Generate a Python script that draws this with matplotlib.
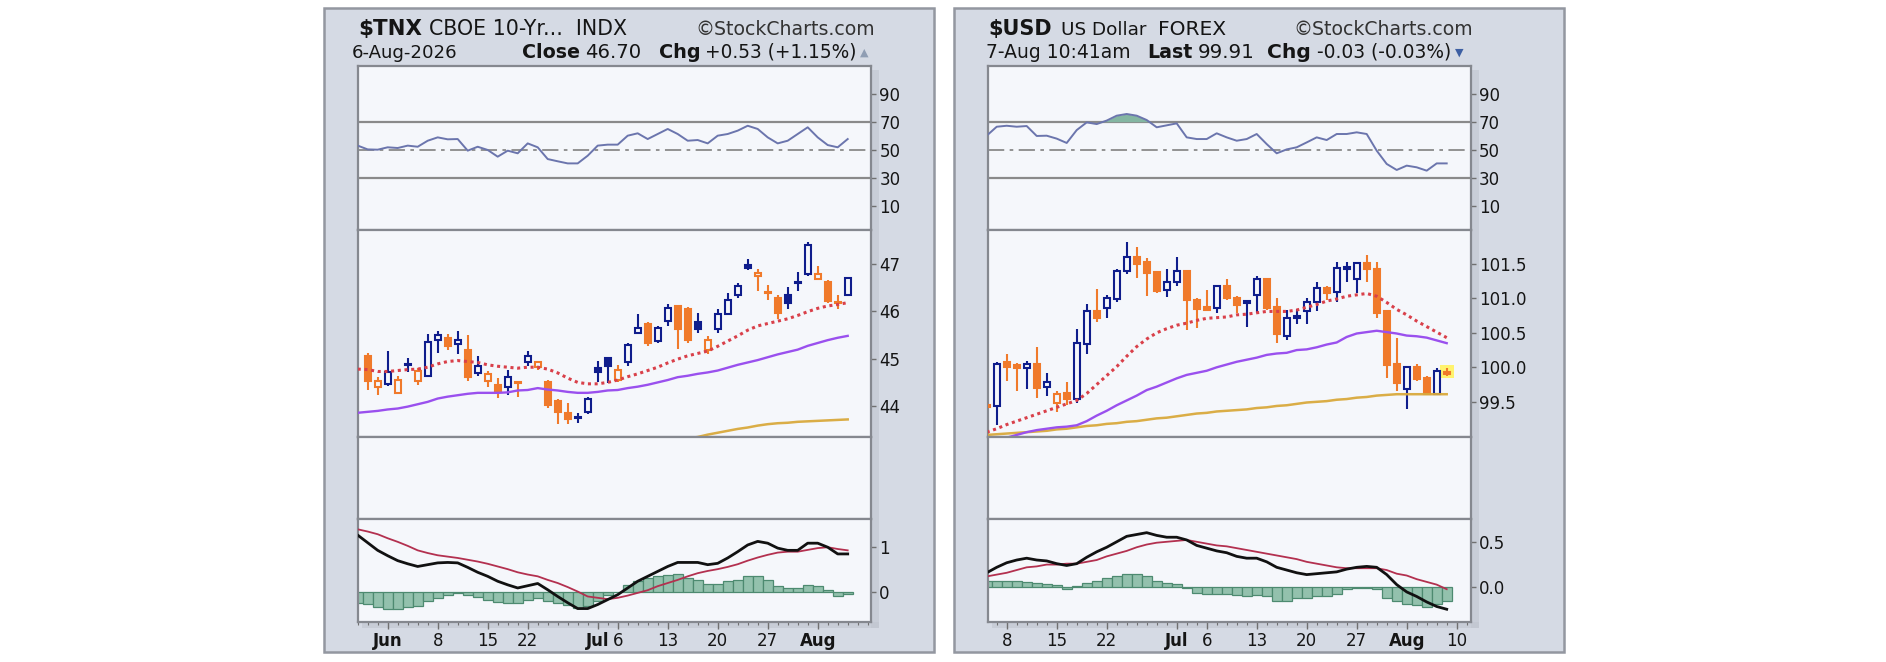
import numpy as np
import pandas as pd
import matplotlib
matplotlib.use("Agg")
import matplotlib.pyplot as plt
from matplotlib.patches import Rectangle
from matplotlib.ticker import FixedLocator

plt.rcParams['font.family'] = ['DejaVu Sans']

# ---------------------------------------------------------------- data
# $TNX (daily, bond-market holidays skipped)
tnx_holidays = ["2026-06-19", "2026-07-03"]
tnx_dates = [d for d in pd.bdate_range("2026-05-28", "2026-08-06").strftime("%Y-%m-%d")
             if d not in tnx_holidays]
tnx_prev_close = 44.80
tnx_open = [45.06, 44.40, 44.47, 44.27, 44.89, 44.52, 44.64, 45.39, 45.44, 45.31, 45.19, 44.70,
            44.52, 44.45, 44.41, 44.49, 44.92, 44.82, 44.50, 44.11, 43.86, 43.77, 43.88, 44.80,
            45.01, 44.55, 44.94, 45.55, 45.74, 45.37, 45.79, 46.10, 46.04, 45.77, 45.19, 45.62,
            45.94, 46.34, 46.98, 46.75, 46.41, 46.27, 46.34, 46.62, 46.79, 46.67, 46.61, 46.19, 46.34]
tnx_high = [45.12, 44.62, 45.16, 44.64, 45.01, 44.80, 45.51, 45.58, 45.51, 45.58, 45.49, 45.06,
            44.73, 44.59, 44.77, 44.51, 45.16, 44.96, 44.55, 44.16, 44.06, 43.86, 44.20, 44.96,
            45.02, 44.87, 45.32, 45.94, 45.77, 45.69, 46.15, 46.13, 46.08, 45.96, 45.48, 46.04,
            46.38, 46.60, 47.09, 46.88, 46.55, 46.34, 46.50, 46.82, 47.45, 46.96, 46.65, 46.34, 46.72]
tnx_low = [44.35, 44.23, 44.43, 44.26, 44.71, 44.44, 44.62, 45.12, 45.19, 45.09, 44.52, 44.64,
           44.40, 44.18, 44.23, 44.20, 44.84, 44.77, 43.97, 43.63, 43.63, 43.65, 43.84, 44.50,
           44.48, 44.50, 44.84, 45.53, 45.26, 45.33, 45.69, 45.21, 45.33, 45.55, 45.09, 45.55,
           45.91, 46.27, 46.86, 46.43, 46.24, 45.83, 46.04, 46.43, 46.75, 46.65, 46.18, 46.04, 46.33]
tnx_close = [44.54, 44.52, 44.71, 44.55, 44.86, 44.75, 45.35, 45.49, 45.26, 45.40, 44.62, 44.85,
             44.68, 44.30, 44.62, 44.50, 45.06, 44.92, 44.02, 43.88, 43.72, 43.76, 44.16, 44.71,
             44.84, 44.77, 45.28, 45.65, 45.33, 45.65, 46.06, 45.62, 45.40, 45.63, 45.40, 45.94,
             46.24, 46.54, 46.91, 46.81, 46.39, 45.97, 46.18, 46.60, 47.40, 46.79, 46.22, 46.17, 46.70]
# indicator lines start one session before the first visible candle
tnx_line_start = "2026-05-27"
tnx_ma20 = [44.78, 44.77, 44.73, 44.73, 44.75, 44.77, 44.78, 44.82, 44.89, 44.94, 44.96, 44.94,
            44.92, 44.87, 44.84, 44.82, 44.80, 44.82, 44.82, 44.78, 44.70, 44.59, 44.50, 44.47,
            44.47, 44.50, 44.55, 44.62, 44.68, 44.75, 44.82, 44.91, 44.99, 45.06, 45.11, 45.16,
            45.26, 45.37, 45.48, 45.60, 45.69, 45.74, 45.79, 45.84, 45.91, 45.99, 46.06, 46.11,
            46.14, 46.18]
tnx_ma50 = [43.86, 43.88, 43.90, 43.93, 43.95, 43.99, 44.04, 44.09, 44.16, 44.20, 44.23, 44.26,
            44.28, 44.28, 44.28, 44.29, 44.33, 44.34, 44.38, 44.35, 44.33, 44.30, 44.28, 44.28,
            44.30, 44.33, 44.34, 44.38, 44.41, 44.45, 44.50, 44.55, 44.61, 44.64, 44.68, 44.71,
            44.75, 44.81, 44.87, 44.92, 44.97, 45.03, 45.09, 45.14, 45.19, 45.27, 45.33, 45.39,
            45.44, 45.48]
tnx_ma200 = [np.nan] * 32 + [43.28, 43.32, 43.35, 43.40, 43.44, 43.48, 43.52, 43.55, 43.59,
                             43.62, 43.64, 43.65, 43.67, 43.68, 43.69, 43.70, 43.71, 43.72]
tnx_rsi = [52.9, 50.2, 50.0, 51.7, 51.2, 52.9, 52.1, 56.4, 58.8, 57.4, 57.6, 49.3, 52.1, 49.8,
           45.0, 49.3, 47.4, 54.5, 51.7, 43.3, 41.7, 40.2, 40.2, 45.7, 52.9, 53.6, 53.6, 60.0,
           61.7, 57.6, 61.2, 64.8, 61.2, 56.4, 56.9, 54.5, 60.0, 61.2, 63.6, 67.1, 64.8, 58.8,
           54.5, 56.4, 61.2, 66.0, 58.8, 53.3, 51.7, 57.6]
tnx_macd = [1.27, 1.10, 0.93, 0.81, 0.70, 0.63, 0.57, 0.61, 0.65, 0.66, 0.65, 0.55, 0.44, 0.35,
            0.24, 0.16, 0.09, 0.14, 0.19, 0.05, -0.10, -0.24, -0.37, -0.37, -0.28, -0.17, -0.06,
            0.09, 0.24, 0.35, 0.46, 0.57, 0.66, 0.66, 0.66, 0.61, 0.64, 0.76, 0.90, 1.05, 1.13,
            1.09, 0.98, 0.93, 0.93, 1.09, 1.09, 1.00, 0.85, 0.85]
tnx_signal = [1.40, 1.35, 1.29, 1.20, 1.12, 1.03, 0.93, 0.87, 0.82, 0.79, 0.76, 0.72, 0.68, 0.63,
              0.57, 0.51, 0.44, 0.39, 0.35, 0.27, 0.20, 0.11, 0.01, -0.10, -0.13, -0.16, -0.13,
              -0.08, -0.02, 0.04, 0.13, 0.20, 0.27, 0.35, 0.42, 0.47, 0.51, 0.56, 0.62, 0.70,
              0.77, 0.83, 0.88, 0.90, 0.90, 0.94, 0.98, 1.00, 0.96, 0.93]
tnx_hist = [-0.24, -0.26, -0.33, -0.37, -0.37, -0.33, -0.32, -0.21, -0.13, -0.06, -0.02, -0.07,
            -0.12, -0.17, -0.23, -0.24, -0.24, -0.17, -0.13, -0.21, -0.24, -0.30, -0.36, -0.32,
            -0.19, -0.07, 0.01, 0.16, 0.24, 0.31, 0.35, 0.39, 0.41, 0.31, 0.27, 0.18, 0.18, 0.24,
            0.26, 0.35, 0.35, 0.27, 0.14, 0.09, 0.09, 0.16, 0.14, 0.05, -0.10, -0.04]
tnx_xtick_dates = ["2026-06-01", "2026-06-08", "2026-06-15", "2026-06-22", "2026-07-01",
                   "2026-07-06", "2026-07-13", "2026-07-20", "2026-07-27", "2026-08-03"]
tnx_xtick_labels = ["Jun", "8", "15", "22", "Jul", "6", "13", "20", "27", "Aug"]
tnx_price_ticks = [44, 45, 46, 47]
tnx_macd_ticks = [0, 1]

# $USD (forex, every weekday)
usd_dates = list(pd.bdate_range("2026-06-04", "2026-08-07").strftime("%Y-%m-%d"))
usd_prev_close = 99.50
usd_open = [99.46, 99.44, 100.08, 100.04, 99.99, 100.05, 99.72, 99.49, 99.63, 99.54, 100.34,
            100.82, 100.86, 100.99, 101.39, 101.60, 101.52, 101.38, 101.12, 101.23, 101.39,
            100.97, 100.87, 100.86, 101.18, 101.00, 100.96, 101.05, 101.28, 100.87, 100.45,
            100.74, 100.81, 100.94, 101.15, 101.09, 101.42, 101.28, 101.51, 101.43, 100.81,
            100.05, 99.69, 100.00, 99.85, 99.62, 99.93]
usd_high = [99.48, 100.08, 100.20, 100.06, 100.09, 100.30, 99.92, 99.65, 99.78, 100.56, 100.92,
            101.13, 101.05, 101.43, 101.81, 101.75, 101.58, 101.39, 101.43, 101.60, 101.40,
            101.00, 101.12, 101.19, 101.28, 101.03, 100.98, 101.33, 101.30, 101.00, 100.83,
            100.84, 101.00, 101.23, 101.18, 101.53, 101.52, 101.53, 101.63, 101.52, 100.83,
            100.43, 100.01, 100.05, 99.87, 99.99, 99.99]
usd_low = [99.38, 99.16, 99.80, 99.65, 99.68, 99.55, 99.59, 99.35, 99.45, 99.49, 100.19, 100.66,
           100.72, 100.94, 101.35, 101.30, 101.03, 101.07, 101.02, 101.18, 100.54, 100.57,
           100.82, 100.79, 100.97, 100.78, 100.58, 100.79, 100.83, 100.35, 100.40, 100.63,
           100.63, 100.81, 100.98, 100.94, 101.23, 101.07, 101.23, 100.72, 99.84, 99.65, 99.39,
           99.80, 99.60, 99.62, 99.87]
usd_close = [99.42, 100.05, 100.01, 99.99, 100.05, 99.70, 99.78, 99.62, 99.54, 100.35, 100.82,
             100.72, 101.00, 101.39, 101.60, 101.50, 101.37, 101.10, 101.24, 101.39, 100.97,
             100.84, 100.83, 101.18, 101.00, 100.91, 100.93, 101.28, 100.86, 100.48, 100.71,
             100.72, 100.94, 101.15, 101.08, 101.44, 101.46, 101.51, 101.42, 100.79, 100.03,
             99.77, 100.00, 99.83, 99.62, 99.94, 99.91]
usd_ma20 = [99.06, 99.11, 99.17, 99.22, 99.27, 99.32, 99.37, 99.42, 99.47, 99.52, 99.62, 99.75,
            99.88, 100.01, 100.16, 100.30, 100.41, 100.50, 100.56, 100.61, 100.64, 100.68,
            100.71, 100.72, 100.73, 100.76, 100.77, 100.79, 100.81, 100.81, 100.81, 100.83,
            100.87, 100.91, 100.96, 100.99, 101.03, 101.05, 101.07, 101.03, 100.94, 100.84,
            100.76, 100.67, 100.59, 100.51, 100.43]
usd_ma50 = [98.90, 98.94, 98.98, 99.02, 99.06, 99.09, 99.11, 99.13, 99.14, 99.16, 99.22, 99.30,
            99.37, 99.45, 99.52, 99.59, 99.67, 99.72, 99.78, 99.84, 99.89, 99.92, 99.95, 100.00,
            100.04, 100.08, 100.11, 100.14, 100.18, 100.20, 100.21, 100.25, 100.26, 100.29,
            100.33, 100.36, 100.44, 100.49, 100.51, 100.53, 100.51, 100.49, 100.46, 100.45,
            100.43, 100.39, 100.35]
usd_ma200 = [99.02, 99.03, 99.04, 99.05, 99.06, 99.07, 99.08, 99.10, 99.11, 99.13, 99.15, 99.16,
             99.18, 99.19, 99.21, 99.22, 99.24, 99.26, 99.27, 99.29, 99.31, 99.33, 99.34, 99.36,
             99.37, 99.38, 99.39, 99.41, 99.42, 99.44, 99.45, 99.47, 99.49, 99.50, 99.51, 99.53,
             99.54, 99.56, 99.57, 99.59, 99.60, 99.61, 99.61, 99.61, 99.61, 99.61, 99.61]
usd_rsi = [60.0, 66.4, 67.1, 66.4, 66.9, 59.8, 60.0, 57.9, 54.8, 64.0, 69.5, 68.3, 70.8, 74.3,
           75.5, 74.3, 71.2, 66.0, 67.4, 68.8, 58.8, 57.6, 57.6, 61.7, 58.8, 56.4, 57.6, 61.2,
           54.0, 47.4, 50.2, 51.7, 55.2, 58.8, 56.9, 61.2, 61.2, 62.4, 61.2, 49.3, 39.8, 35.5,
           38.6, 37.4, 35.0, 40.2, 40.2]
usd_macd = [0.16, 0.22, 0.27, 0.30, 0.32, 0.30, 0.29, 0.26, 0.24, 0.26, 0.33, 0.39, 0.44, 0.50,
            0.56, 0.58, 0.60, 0.57, 0.55, 0.55, 0.52, 0.46, 0.43, 0.40, 0.38, 0.34, 0.32, 0.32,
            0.28, 0.22, 0.19, 0.16, 0.14, 0.15, 0.16, 0.17, 0.20, 0.22, 0.23, 0.22, 0.14, 0.03,
            -0.05, -0.10, -0.16, -0.21, -0.24]
usd_signal = [0.12, 0.14, 0.16, 0.19, 0.22, 0.23, 0.25, 0.25, 0.26, 0.26, 0.28, 0.30, 0.34, 0.37,
              0.40, 0.44, 0.47, 0.49, 0.50, 0.51, 0.52, 0.50, 0.48, 0.46, 0.45, 0.43, 0.41, 0.39,
              0.37, 0.35, 0.33, 0.31, 0.28, 0.26, 0.24, 0.22, 0.21, 0.21, 0.21, 0.21, 0.19, 0.15,
              0.13, 0.09, 0.06, 0.03, -0.02]
usd_hist = [0.07, 0.07, 0.07, 0.07, 0.06, 0.05, 0.04, 0.03, -0.02, 0.01, 0.05, 0.07, 0.10, 0.12,
            0.15, 0.15, 0.12, 0.07, 0.05, 0.04, -0.01, -0.06, -0.07, -0.07, -0.07, -0.08, -0.09,
            -0.08, -0.09, -0.15, -0.15, -0.12, -0.12, -0.09, -0.09, -0.07, -0.02, -0.01, -0.01,
            -0.02, -0.12, -0.15, -0.18, -0.19, -0.21, -0.18, -0.15]
usd_xtick_dates = ["2026-06-08", "2026-06-15", "2026-06-22", "2026-07-01", "2026-07-06",
                   "2026-07-13", "2026-07-20", "2026-07-27", "2026-08-03", "2026-08-10"]
usd_xtick_labels = ["8", "15", "22", "Jul", "6", "13", "20", "27", "Aug", "10"]
usd_price_ticks = [99.5, 100.0, 100.5, 101.0, 101.5]
usd_macd_ticks = [0.0, 0.5]

rsi_ticks = [10, 30, 50, 70, 90]

tnx_header = [("$TNX", "bold"), ("CBOE 10-Yr...  INDX", "normal"), ("\u00a9StockCharts.com", "normal")]
tnx_header2 = [("6-Aug-2026", "normal"), ("Close", "bold"), ("46.70", "normal"),
               ("Chg", "bold"), ("+0.53 (+1.15%)", "normal")]
usd_header = [("$USD", "bold"), ("US Dollar", "normal"), ("FOREX", "normal"),
              ("\u00a9StockCharts.com", "normal")]
usd_header2 = [("7-Aug 10:41am", "normal"), ("Last", "bold"), ("99.91", "normal"),
               ("Chg", "bold"), ("-0.03 (-0.03%)", "normal")]

# ---------------------------------------------------------------- style
W, H, DPI = 1886, 662, 100
BLUE = "#0f1d8c"
ORANGE = "#f07a2b"
PLOT_BG = "#f5f7fb"
PANEL_BG = "#d5dae4"
FRAME = "#85888f"
TICK = "#707070"
TXT = "#151515"

ROWS = [("rsi", 66, 230), ("price", 230, 437), ("blank", 437, 519), ("macd", 519, 622)]

fig = plt.figure(figsize=(W / DPI, H / DPI), dpi=DPI)
fig.patch.set_facecolor("white")


def fig_rect(x0, y0, x1, y1, **kw):
    r = Rectangle((x0 / W, 1 - y1 / H), (x1 - x0) / W, (y1 - y0) / H,
                  transform=fig.transFigure, **kw)
    fig.add_artist(r)
    return r


def make_axes(px0, px1):
    axes = {}
    for name, y0, y1 in ROWS:
        ax = fig.add_axes([px0 / W, 1 - y1 / H, (px1 - px0) / W, (y1 - y0) / H])
        ax.set_facecolor(PLOT_BG)
        for s in ax.spines.values():
            s.set_color(FRAME)
            s.set_linewidth(1.6)
        ax.yaxis.tick_right()
        ax.tick_params(axis="y", which="major", direction="out", length=3.5, width=1,
                       color=TICK, labelsize=12, pad=2.5, labelcolor=TXT)
        ax.tick_params(axis="x", which="both", bottom=False, top=False, labelbottom=False)
        axes[name] = ax
    axes["blank"].set_yticks([])
    return axes


def draw_candles(ax, o, h, l, c, prev_close):
    o, h, l, c = map(np.asarray, (o, h, l, c))
    x = np.arange(len(o))
    prev = np.concatenate([[prev_close], c[:-1]])
    cols = np.where(c >= prev, BLUE, ORANGE)
    hollow = c > o
    ax.vlines(x, l, h, colors=cols, lw=1.5, zorder=3)
    bottoms = np.minimum(o, c)
    heights = np.maximum(np.abs(c - o), 0.003)
    faces = [PLOT_BG if hh else col for hh, col in zip(hollow, cols)]
    ax.bar(x, heights, bottom=bottoms, width=0.6, color=faces, edgecolor=cols,
           linewidth=1.5, zorder=4)


def build(px0, px1, dates, o, h, l, c, prev_close, line_x0, ma20, ma50, ma200, rsi,
          macd, signal, hist, xlim, price_lim, price_ticks, price_fmt, macd_lim,
          macd_ticks, macd_fmt, xtick_dates, xtick_labels, holidays, highlight=False):
    axes = make_axes(px0, px1)
    start = dates[0]
    n_line = len(ma20)
    lx = np.arange(n_line) + np.busday_count(start, line_x0, holidays=holidays)

    # RSI
    ax = axes["rsi"]
    rsi = np.asarray(rsi)
    ax.axhline(70, color="#8a8a8a", lw=1.6, zorder=1)
    ax.axhline(30, color="#8a8a8a", lw=1.6, zorder=1)
    ax.axhline(50, color="#8a8a8a", lw=1.3, ls=(0, (9, 3, 2, 3)), zorder=1)
    ax.fill_between(lx, rsi, 70, where=rsi > 70, interpolate=True, color="#84b6a2",
                    zorder=2, lw=0)
    ax.plot(lx, rsi, color="#6b75ad", lw=1.4, zorder=3)
    ax.set_ylim(-7.4, 109.8)
    ax.set_yticks(rsi_ticks)
    ax.set_yticklabels([str(t) for t in rsi_ticks])

    # price
    ax = axes["price"]
    if highlight:
        k = len(c) - 1
        ax.add_patch(Rectangle((k - 0.7, l[k] - 0.03), 1.4, h[k] - l[k] + 0.07,
                               facecolor="#fff36e", edgecolor="none", zorder=2.5))
    draw_candles(ax, o, h, l, c, prev_close)
    ax.plot(lx, ma200, color="#d9a93c", lw=1.8, zorder=5, alpha=0.95)
    ax.plot(lx, ma50, color="#9a50ee", lw=1.7, zorder=5)
    ax.plot(lx, ma20, color="#d9404a", lw=2.2, ls=(0, (1.0, 1.2)), zorder=6)
    ax.set_ylim(*price_lim)
    ax.set_yticks(price_ticks)
    ax.set_yticklabels([price_fmt.format(t) for t in price_ticks])

    # MACD
    ax = axes["macd"]
    ax.bar(lx, hist, width=1.0, color="#93c1ad", edgecolor="#4d8a70", linewidth=0.9, zorder=2)
    ax.plot(lx, signal, color="#b3304f", lw=1.3, zorder=3)
    ax.plot(lx, macd, color="#111111", lw=2.0, zorder=4)
    ax.set_ylim(*macd_lim)
    ax.set_yticks(macd_ticks)
    ax.set_yticklabels([macd_fmt.format(t) for t in macd_ticks])

    for a in axes.values():
        a.set_xlim(*xlim)

    # x axis
    xt = [np.busday_count(start, d, holidays=holidays) for d in xtick_dates]
    ax.set_xticks(xt)
    ax.set_xticklabels(xtick_labels)
    ax.xaxis.set_minor_locator(FixedLocator(np.arange(int(np.floor(xlim[0])), int(np.ceil(xlim[1])) + 1)))
    ax.tick_params(axis="x", which="major", bottom=True, labelbottom=True, length=5,
                   width=1, color=TICK, labelsize=12, pad=2, labelcolor=TXT)
    ax.tick_params(axis="x", which="minor", bottom=True, length=2.5, width=0.8, color=TICK)
    for t in ax.get_xticklabels():
        if t.get_text().isalpha():
            t.set_fontweight("bold")
    return axes


# outer panels
for (x0, x1) in [(324, 934), (954, 1564)]:
    fig_rect(x0, 8, x1, 652, facecolor=PANEL_BG, edgecolor="#9397a0", lw=1.8, zorder=-2)

# plot shadows
for px1 in [871, 1470.7]:
    fig_rect(px1, 70, px1 + 8, 628, facecolor="#bfc4ce", edgecolor="none", alpha=0.55, zorder=-1)
for (px0, px1) in [(357.7, 871), (987.7, 1470.7)]:
    fig_rect(px0 + 4, 622, px1 + 8, 628, facecolor="#bfc4ce", edgecolor="none", alpha=0.55, zorder=-1)

build(357.7, 871, tnx_dates, tnx_open, tnx_high, tnx_low, tnx_close, tnx_prev_close,
      tnx_line_start, tnx_ma20, tnx_ma50, tnx_ma200, tnx_rsi, tnx_macd, tnx_signal, tnx_hist,
      (-1.0, 50.33), (43.35, 47.71), tnx_price_ticks, "{:g}", (-0.67, 1.63), tnx_macd_ticks,
      "{:g}", tnx_xtick_dates, tnx_xtick_labels, tnx_holidays)
build(987.7, 1470.7, usd_dates, usd_open, usd_high, usd_low, usd_close,
      usd_prev_close, usd_dates[0], usd_ma20, usd_ma50, usd_ma200, usd_rsi, usd_macd,
      usd_signal, usd_hist, (0.1, 48.4), (98.99, 101.99), usd_price_ticks, "{:.1f}",
      (-0.38, 0.75), usd_macd_ticks, "{:.1f}", usd_xtick_dates, usd_xtick_labels, [],
      highlight=True)

# ---------------------------------------------------------------- headers
fit_items = []


def head(s, weight, x0, x1, base_y, color=TXT):
    t = fig.text(x0 / W, 1 - base_y / H, s, fontsize=12, fontweight=weight, color=color,
                 ha="left", va="baseline")
    fit_items.append((t, x1 - x0))


tnx_h1_x = [(358.5, 422.4), (429, 625.5), (695, 873.6)]
tnx_h2_x = [(351.7, 457), (522.4, 580), (585, 640.6), (658.5, 700), (705, 855.7)]
usd_h1_x = [(988.5, 1052.4), (1061, 1146.4), (1158, 1225.8), (1293, 1471.8)]
usd_h2_x = [(986.5, 1130.6), (1147.6, 1192.9), (1198, 1254.8), (1267.5, 1311), (1317, 1450.8)]

for (s, wgt), (a, b) in zip(tnx_header, tnx_h1_x):
    head(s, wgt, a, b, 35, color="#333333" if "Stock" in s else TXT)
for (s, wgt), (a, b) in zip(tnx_header2, tnx_h2_x):
    head(s, wgt, a, b, 58)
for (s, wgt), (a, b) in zip(usd_header, usd_h1_x):
    head(s, wgt, a, b, 35, color="#333333" if "Stock" in s else TXT)
for (s, wgt), (a, b) in zip(usd_header2, usd_h2_x):
    head(s, wgt, a, b, 58)

fig.text(860 / W, 1 - 56 / H, "\u25b2", fontsize=8, color="#8f9db3", ha="left", va="baseline")
fig.text(1455 / W, 1 - 56 / H, "\u25bc", fontsize=8, color="#3d5fa3", ha="left", va="baseline")

fig.canvas.draw()
renderer = fig.canvas.get_renderer()
for t, target in fit_items:
    w = t.get_window_extent(renderer).width
    t.set_fontsize(t.get_fontsize() * target / w)

fig.savefig("out.png", dpi=DPI, facecolor="white")
